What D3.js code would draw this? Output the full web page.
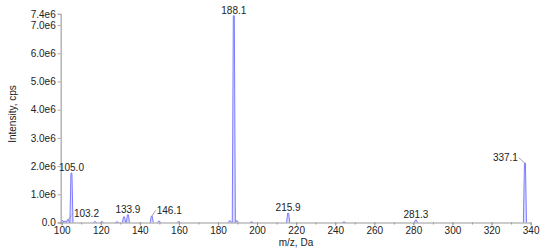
<!DOCTYPE html>
<html>
<head>
<meta charset="utf-8">
<script src="https://cdn.jsdelivr.net/npm/d3@7"></script>
<style>
  body { margin: 0; background: #fff; }
  text { font-family: "Liberation Sans", Arial, sans-serif; fill: #222; }
</style>
</head>
<body>
<div id="chart"></div>
<script>
// peak list (m/z, intensity in cps)
var peakMz  = [100.4, 101.6, 103.2, 105.0, 117.1, 120.6, 128.3, 131.9, 133.9, 146.1, 149.8, 159.9, 186.1, 188.1, 189.6, 197.2, 215.9, 244.5, 281.3, 337.1];
var peakInt = [0.07e6, 0.05e6, 0.1e6, 1.75e6, 0.03e6, 0.03e6, 0.02e6, 0.2e6, 0.27e6, 0.22e6, 0.05e6, 0.03e6, 0.06e6, 7.33e6, 0.06e6, 0.02e6, 0.33e6, 0.02e6, 0.09e6, 2.1e6];
// which peaks get a label, and the label text
var labelMz   = [103.2, 105.0, 133.9, 146.1, 188.1, 215.9, 281.3, 337.1];
var labelText = ["103.2", "105.0", "133.9", "146.1", "188.1", "215.9", "281.3", "337.1"];
var xTicks = [100, 120, 140, 160, 180, 200, 220, 240, 260, 280, 300, 320, 340];
var yTicks = [0, 1e6, 2e6, 3e6, 4e6, 5e6, 6e6, 7e6, 7.4e6];

var width = 550, height = 249;

var x = d3.scaleLinear().domain([99.5, 340.2]).range([60.7, 531]),
    y = d3.scaleLinear().domain([0, 7.4e6]).range([222.5, 13.8]);

var svg = d3.select("#chart").append("svg")
    .attr("width", width)
    .attr("height", height);

// peaks drawn as narrow profiles
var line = d3.line().x(function (d) { return x(d[0]); }).y(function (d) { return y(d[1]); });

svg.selectAll(".peak")
    .data(d3.range(peakMz.length))
    .enter()
    .append("path")
    .attr("class", "peak")
    .attr("d", function (i) {
        var m = peakMz[i], v = peakInt[i];
        return line([[m - 0.8, 0], [m - 0.25, v], [m + 0.25, v], [m + 0.8, 0]]);
    })
    .attr("fill", "#dcdcff")
    .attr("stroke", "#6f6fff")
    .attr("stroke-width", 0.9);

// y axis
var yAxis = d3.axisLeft(y)
    .tickValues(yTicks)
    .tickSize(3)
    .tickPadding(2)
    .tickFormat(function (d) { return d === 0 ? "0.0" : (d / 1e6).toFixed(1) + "e6"; });

var gy = svg.append("g")
    .attr("transform", "translate(60.7,0)")
    .call(yAxis);
gy.select(".domain").attr("stroke", "#aaa").attr("stroke-width", 1.3);
gy.selectAll(".tick line").attr("stroke", "#aaa");
gy.selectAll("text").style("font-size", "10px").attr("fill", "#222");

// x axis, minor ticks every 10
var gx = svg.append("g")
    .attr("transform", "translate(0,222.5)")
    .call(d3.axisBottom(x).tickValues(d3.range(100, 341, 10)).tickSize(2).tickFormat(""));
gx.select(".domain").attr("stroke", "#999");
gx.selectAll(".tick line").attr("stroke", "#999");

var gx2 = svg.append("g")
    .attr("transform", "translate(0,222.5)")
    .call(d3.axisBottom(x).tickValues(xTicks).tickSize(3).tickPadding(1).tickFormat(d3.format("d")));
gx2.select(".domain").remove();
gx2.selectAll(".tick line").attr("stroke", "#999");
gx2.selectAll("text").style("font-size", "10px").attr("fill", "#222");

// axis titles
svg.append("text")
    .attr("transform", "translate(16,114) rotate(-90)")
    .style("text-anchor", "middle")
    .style("font-size", "10px")
    .text("Intensity, cps");

svg.append("text")
    .attr("x", 296)
    .attr("y", 245.5)
    .style("text-anchor", "middle")
    .style("font-size", "10px")
    .text("m/z, Da");

// peak labels; a few are pushed aside with a leader line
var leaders = {
    "103.2": {dx: 5, dy: -6, anchor: "start", dash: "2,1"},
    "146.1": {dx: 4, dy: -6, anchor: "start", dash: null},
    "337.1": {dx: -6, dy: -5.5, anchor: "end", dash: null}
};

labelMz.forEach(function (m, i) {
    var v = peakInt[peakMz.indexOf(m)],
        px = x(m),
        py = y(v),
        L = leaders[labelText[i]];
    if (L) {
        svg.append("line")
            .attr("x1", px).attr("y1", py)
            .attr("x2", px + L.dx).attr("y2", py + L.dy)
            .attr("stroke", "#888")
            .attr("stroke-width", 0.8)
            .attr("stroke-dasharray", L.dash);
        svg.append("text")
            .attr("x", px + L.dx + (L.anchor === "start" ? 1 : -1))
            .attr("y", py + L.dy + 3.5)
            .style("text-anchor", L.anchor)
            .style("font-size", "10px")
            .text(labelText[i]);
    } else {
        svg.append("text")
            .attr("x", px)
            .attr("y", py - 2)
            .style("text-anchor", "middle")
            .style("font-size", "10px")
            .text(labelText[i]);
    }
});
</script>
</body>
</html>
